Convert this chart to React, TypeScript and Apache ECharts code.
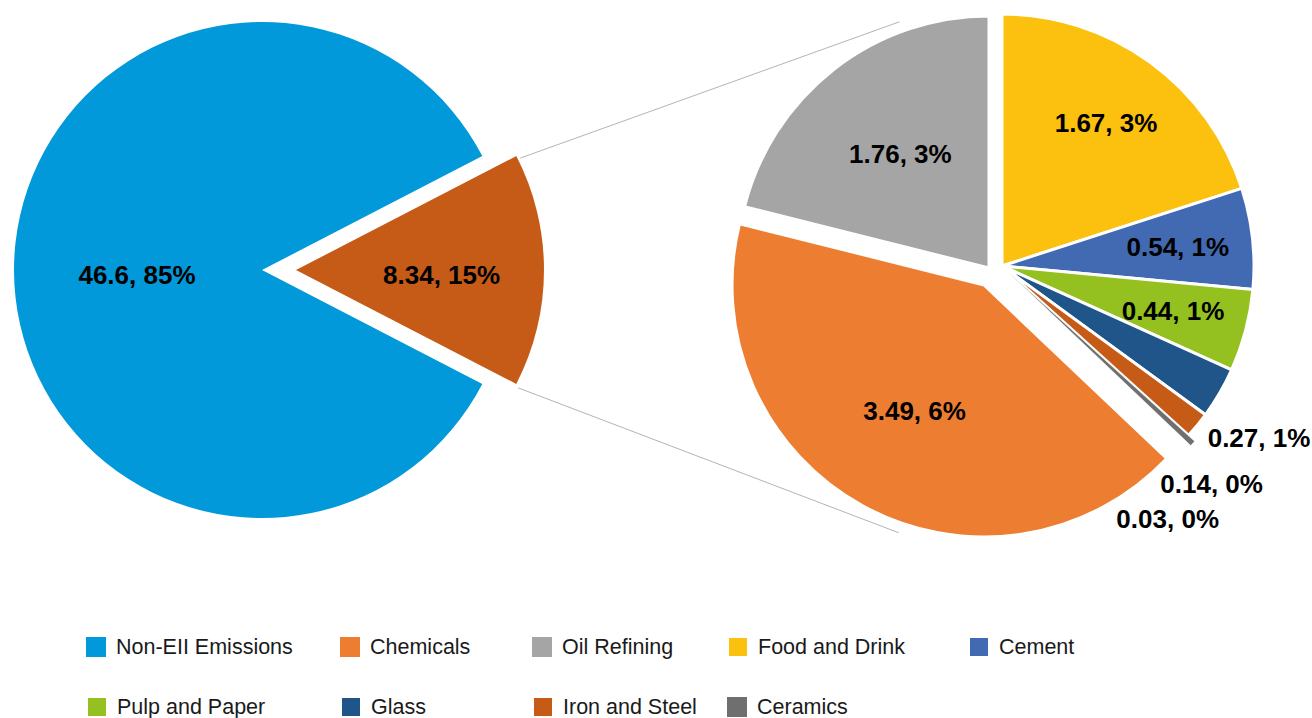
import { useEffect, useRef } from 'react';
import * as echarts from 'echarts';

// ---------- data ----------
const nonEiiName = 'Non-EII Emissions';
const nonEiiValue = 46.6;
const eiiName = 'EII Emissions';

const sectorNames = [
  'Food and Drink',
  'Cement',
  'Pulp and Paper',
  'Glass',
  'Iron and Steel',
  'Ceramics',
  'Chemicals',
  'Oil Refining',
];
const sectorValues = [1.67, 0.54, 0.44, 0.2749, 0.14, 0.03, 3.49, 1.76];

const legendOrder = [
  'Non-EII Emissions',
  'Chemicals',
  'Oil Refining',
  'Food and Drink',
  'Cement',
  'Pulp and Paper',
  'Glass',
  'Iron and Steel',
  'Ceramics',
];

// ---------- styles ----------
const colors: Record<string, string> = {
  'Non-EII Emissions': '#0299DA',
  'EII Emissions': '#C55B17',
  Chemicals: '#ED7D31',
  'Oil Refining': '#A5A5A5',
  'Food and Drink': '#FCC00E',
  Cement: '#426AB3',
  'Pulp and Paper': '#94C11F',
  Glass: '#205589',
  'Iron and Steel': '#C55B17',
  Ceramics: '#6F6F6F',
};

const FONT = "'Liberation Sans', Arial, Helvetica, sans-serif";
const LEFT_C = [262, 270];
const LEFT_R = 248;
const LEFT_EXPLODE = 34;
const RIGHT_C = [1002, 266];
const RIGHT_R = 252;

const groups = [
  { key: 'base', members: ['Food and Drink', 'Cement', 'Pulp and Paper', 'Glass', 'Iron and Steel'], offset: [0, 0], r0: 0.38, border: 3 },
  { key: 'chem', members: ['Chemicals'], offset: [-18, 19], r0: 0.12, border: 3 },
  { key: 'oil', members: ['Oil Refining'], offset: [-13, 2], r0: 0.12, border: 3 },
  { key: 'ceram', members: ['Ceramics'], offset: [6, 6], r0: 0.36, border: 0.5 },
];
// labels drawn outside the slice, with small nudges
const outsideLabelNudge: Record<string, number[]> = {
  Glass: [-9, 17],
  'Iron and Steel': [-29, 23],
  Ceramics: [-66, 38],
};

const labelText = {
  fontFamily: FONT,
  fontSize: 26,
  fontWeight: 'bold' as const,
  color: '#000',
};

export default function App() {
  const ref = useRef<HTMLDivElement>(null);

  useEffect(() => {
    document.body.style.margin = '0';
    if (!ref.current) return;
    const chart = echarts.init(ref.current, undefined, { renderer: 'svg' });

    const eiiValue = sectorValues.reduce((a, b) => a + b, 0);
    const grand = nonEiiValue + eiiValue;
    const fmtVal = (v: number) => String(parseFloat(v.toFixed(2)));
    const fmt = (v: number) => `${fmtVal(v)}, ${Math.round((v / grand) * 100)}%`;

    const eiiHalf = ((eiiValue / grand) * 360) / 2;
    const transparent = 'rgba(0,0,0,0)';

    const series: any[] = [];

    // left pie
    series.push({
      type: 'pie',
      center: LEFT_C,
      radius: LEFT_R,
      startAngle: eiiHalf,
      selectedMode: 'multiple',
      selectedOffset: LEFT_EXPLODE,
      silent: true,
      emphasis: { disabled: true },
      labelLine: { show: false },
      data: [
        { name: eiiName, value: eiiValue, selected: true, itemStyle: { color: colors[eiiName] }, label: { show: false } },
        {
          name: nonEiiName,
          value: nonEiiValue,
          itemStyle: { color: colors[nonEiiName] },
          label: { show: true, position: 'inside', offset: [2, 5], formatter: (p: any) => fmt(p.value), ...labelText },
        },
      ],
    });
    // label of the exploded EII slice
    series.push({
      type: 'pie',
      center: [LEFT_C[0] + LEFT_EXPLODE, LEFT_C[1]],
      radius: [LEFT_R * 0.15, LEFT_R],
      startAngle: eiiHalf,
      silent: true,
      emphasis: { disabled: true },
      labelLine: { show: false },
      itemStyle: { color: transparent, borderWidth: 0 },
      data: [
        { name: eiiName, value: eiiValue, label: { show: true, position: 'inside', offset: [0, 5], formatter: (p: any) => fmt(p.value), ...labelText } },
        { name: nonEiiName, value: nonEiiValue, label: { show: false } },
      ],
    });

    const outerR0 = RIGHT_R * 1.08;
    const outerR1 = RIGHT_R * 1.34;

    groups.forEach((g) => {
      const center = [RIGHT_C[0] + g.offset[0], RIGHT_C[1] + g.offset[1]];
      // fill
      series.push({
        type: 'pie',
        center,
        radius: RIGHT_R,
        startAngle: 90,
        silent: true,
        emphasis: { disabled: true },
        label: { show: false },
        labelLine: { show: false },
        data: sectorNames.map((n, i) => ({
          name: n,
          value: sectorValues[i],
          itemStyle: g.members.includes(n)
            ? { color: colors[n], borderColor: '#fff', borderWidth: g.border }
            : { color: transparent, borderWidth: 0 },
        })),
      });
      // inner labels
      const inner = g.members.filter((n) => !outsideLabelNudge[n]);
      if (inner.length) {
        series.push({
          type: 'pie',
          center,
          radius: [RIGHT_R * g.r0, RIGHT_R],
          startAngle: 90,
          silent: true,
          emphasis: { disabled: true },
          labelLine: { show: false },
          itemStyle: { color: transparent, borderWidth: 0 },
          data: sectorNames.map((n, i) => ({
            name: n,
            value: sectorValues[i],
            label: {
              show: inner.includes(n),
              position: 'inside',
              formatter: (p: any) => fmt(p.value),
              ...labelText,
            },
          })),
        });
      }
      // outer labels
      const outer = g.members.filter((n) => outsideLabelNudge[n]);
      if (outer.length) {
        series.push({
          type: 'pie',
          center,
          radius: [outerR0, outerR1],
          startAngle: 90,
          silent: true,
          emphasis: { disabled: true },
          labelLine: { show: false },
          itemStyle: { color: transparent, borderWidth: 0 },
          data: sectorNames.map((n, i) => ({
            name: n,
            value: sectorValues[i],
            label: {
              show: outer.includes(n),
              position: 'inside',
              offset: outsideLabelNudge[n] || [0, 0],
              formatter: (p: any) => fmt(p.value),
              ...labelText,
            },
          })),
        });
      }
    });

    // connector lines (computed from the pies' geometry)
    const rad = (d: number) => (d * Math.PI) / 180;
    const apex = [LEFT_C[0] + LEFT_EXPLODE, LEFT_C[1]];
    const topCorner = [apex[0] + LEFT_R * Math.cos(rad(eiiHalf)), apex[1] - LEFT_R * Math.sin(rad(eiiHalf))];
    const botCorner = [apex[0] + LEFT_R * Math.cos(rad(eiiHalf)), apex[1] + LEFT_R * Math.sin(rad(eiiHalf))];
    const oilG = groups.find((g) => g.key === 'oil')!;
    const chemG = groups.find((g) => g.key === 'chem')!;
    const reach = RIGHT_R + 10;
    const topEnd = [
      RIGHT_C[0] + oilG.offset[0] + reach * Math.cos(rad(110)),
      RIGHT_C[1] + oilG.offset[1] - reach * Math.sin(rad(110)),
    ];
    const botEnd = [
      RIGHT_C[0] + chemG.offset[0] + reach * Math.cos(rad(-109)),
      RIGHT_C[1] + chemG.offset[1] - reach * Math.sin(rad(-109)),
    ];

    const legendCols = [86, 340, 532, 727, 968];
    const legendRows = [636, 696];

    chart.setOption({
      animation: false,
      backgroundColor: '#fff',
      legend: legendOrder.map((name, i) => ({
        data: [{ name, itemStyle: { color: colors[name] } }],
        left: legendCols[i % 5],
        top: legendRows[Math.floor(i / 5)],
        padding: 0,
        itemWidth: 20,
        itemHeight: 20,
        icon: 'rect',
        selectedMode: false,
        textStyle: { fontFamily: FONT, fontSize: 21.5, color: '#1a1a1a', padding: [0, 0, 0, 5] },
      })),
      graphic: [
        {
          type: 'line',
          z: 0,
          shape: { x1: topCorner[0] + 4, y1: topCorner[1] + 2, x2: topEnd[0], y2: topEnd[1] },
          style: { stroke: '#B4B4B4', lineWidth: 1 },
        },
        {
          type: 'line',
          z: 0,
          shape: { x1: botCorner[0] + 2, y1: botCorner[1] + 4, x2: botEnd[0], y2: botEnd[1] },
          style: { stroke: '#B4B4B4', lineWidth: 1 },
        },
      ],
      series,
    });

    return () => chart.dispose();
  }, []);

  return <div ref={ref} style={{ width: 1312, height: 718 }} />;
}
